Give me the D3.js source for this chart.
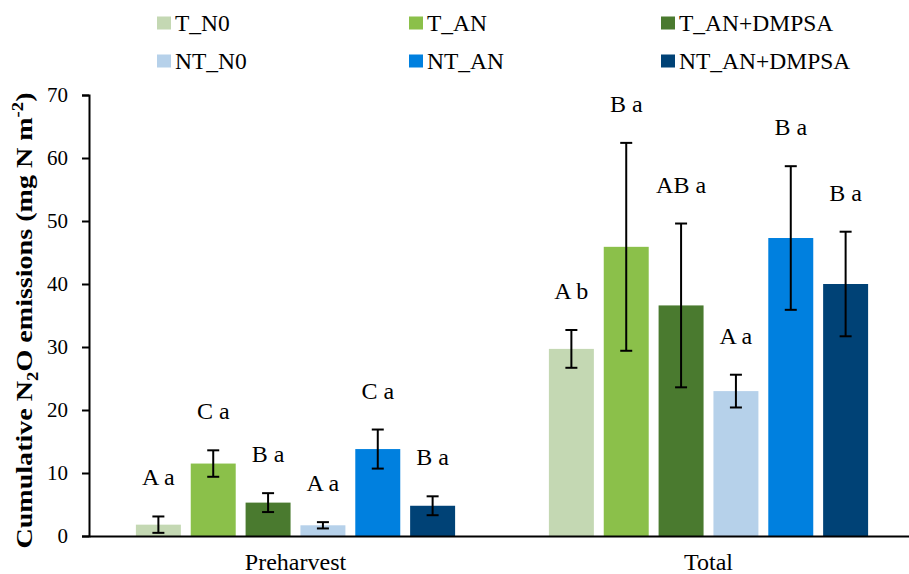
<!DOCTYPE html>
<html>
<head>
<meta charset="utf-8">
<script src="https://cdn.jsdelivr.net/npm/d3@7"></script>
<style>
  body { margin: 0; background: #fff; }
  text { font-family: "Liberation Serif", "Times New Roman", serif; fill: #000; }
</style>
</head>
<body>
<div id="graphic"></div>
<script>
// Data
const periods = ["Preharvest", "Total"];
const treatments = ["T_N0", "T_AN", "T_AN+DMPSA", "NT_N0", "NT_AN", "NT_AN+DMPSA"];
const colors = ["#c4d8b3", "#8bc04a", "#4a7a2f", "#b6d1ea", "#0080df", "#004276"];
const preharvestMean = [1.8, 11.5, 5.3, 1.7, 13.8, 4.8];
const preharvestErr = [1.3, 2.1, 1.5, 0.5, 3.1, 1.5];
const totalMean = [29.7, 45.9, 36.6, 23.0, 47.3, 40.0];
const totalErr = [3.0, 16.5, 13.0, 2.6, 11.4, 8.3];
const preharvestLetters = ["A a", "C a", "B a", "A a", "C a", "B a"];
const totalLetters = ["A b", "B a", "AB a", "A a", "B a", "B a"];
const yTicks = [0, 10, 20, 30, 40, 50, 60, 70];

const rows = [];
periods.forEach((p, i) => {
  const m = i === 0 ? preharvestMean : totalMean;
  const e = i === 0 ? preharvestErr : totalErr;
  const l = i === 0 ? preharvestLetters : totalLetters;
  treatments.forEach((t, j) => rows.push({ period: p, treatment: t, value: m[j], err: e[j], letter: l[j], color: colors[j] }));
});

const W = 909, H = 574;
const margin = { top: 95, right: -6, bottom: 38, left: 89 };

const svg = d3.select("#graphic").append("svg")
  .attr("width", W).attr("height", H);

const x0 = d3.scaleBand().domain(periods).range([margin.left, W - margin.right]).padding(0);
const x1 = d3.scaleBand().domain(treatments).range([0, x0.bandwidth()])
  .paddingInner(0.18).paddingOuter(0.855);
const y = d3.scaleLinear().domain([0, 70]).range([H - margin.bottom, margin.top]);

// Bars
svg.append("g").selectAll("rect")
  .data(rows)
  .join("rect")
  .attr("x", d => x0(d.period) + x1(d.treatment))
  .attr("y", d => y(d.value))
  .attr("width", x1.bandwidth())
  .attr("height", d => y(0) - y(d.value))
  .attr("fill", d => d.color);

// Error bars
const eb = svg.append("g").attr("stroke", "#000").attr("stroke-width", 2);
rows.forEach(d => {
  const cx = x0(d.period) + x1(d.treatment) + x1.bandwidth() / 2;
  const lo = Math.max(0, d.value - d.err), hi = d.value + d.err;
  eb.append("line").attr("x1", cx).attr("x2", cx).attr("y1", y(lo)).attr("y2", y(hi));
  eb.append("line").attr("x1", cx - 6).attr("x2", cx + 6).attr("y1", y(hi)).attr("y2", y(hi));
  eb.append("line").attr("x1", cx - 6).attr("x2", cx + 6).attr("y1", y(lo)).attr("y2", y(lo));
});

// Significance letters
svg.append("g").selectAll("text")
  .data(rows)
  .join("text")
  .attr("x", d => x0(d.period) + x1(d.treatment) + x1.bandwidth() / 2)
  .attr("y", d => y(d.value + d.err) - 31)
  .attr("text-anchor", "middle")
  .attr("font-size", 24)
  .text(d => d.letter);

// Y axis
const yAxis = svg.append("g")
  .attr("transform", `translate(${margin.left},0)`)
  .call(d3.axisLeft(y).tickValues(yTicks).tickSize(7).tickSizeOuter(7).tickPadding(14));
yAxis.selectAll("path, line").attr("stroke", "#000").attr("stroke-width", 2);
yAxis.selectAll("text")
  .attr("font-size", 20).attr("font-family", "Liberation Serif")
  .attr("transform", "scale(1.05,1)").attr("x", -21 / 1.05);

// X axis
const xAxis = svg.append("g")
  .attr("transform", `translate(0,${y(0)})`)
  .call(d3.axisBottom(x0).tickSize(0).tickSizeOuter(0).tickPadding(17));
xAxis.select("path").attr("stroke", "#000").attr("stroke-width", 2);
xAxis.selectAll("text").attr("font-size", 24).attr("font-family", "Liberation Serif");

// Y axis title
const yt = svg.append("text")
  .attr("transform", `translate(32,${(y(0) + y(70)) / 2 + 5}) rotate(-90) scale(1.17,1)`)
  .attr("text-anchor", "middle")
  .attr("font-size", 24)
  .attr("font-weight", "bold");
yt.append("tspan").text("Cumulative N");
yt.append("tspan").attr("dy", 6).attr("font-size", 16).text("2");
yt.append("tspan").attr("dy", -6).text("O emissions (mg N m");
yt.append("tspan").attr("dy", -9).attr("font-size", 16).text("-2");
yt.append("tspan").attr("dy", 9).text(")");

// Legend: 3 columns x 2 rows
const legend = svg.append("g");
treatments.forEach((t, i) => {
  const col = i % 3, row = Math.floor(i / 3);
  const g = legend.append("g").attr("transform", `translate(${157 + col * 252},${23 + row * 38})`);
  g.append("rect").attr("x", 0).attr("y", -6.5).attr("width", 14).attr("height", 13).attr("fill", colors[i]);
  g.append("text").attr("x", 18).attr("y", 0).attr("dy", "0.35em").attr("font-size", 23.5).text(t);
});
</script>
</body>
</html>
